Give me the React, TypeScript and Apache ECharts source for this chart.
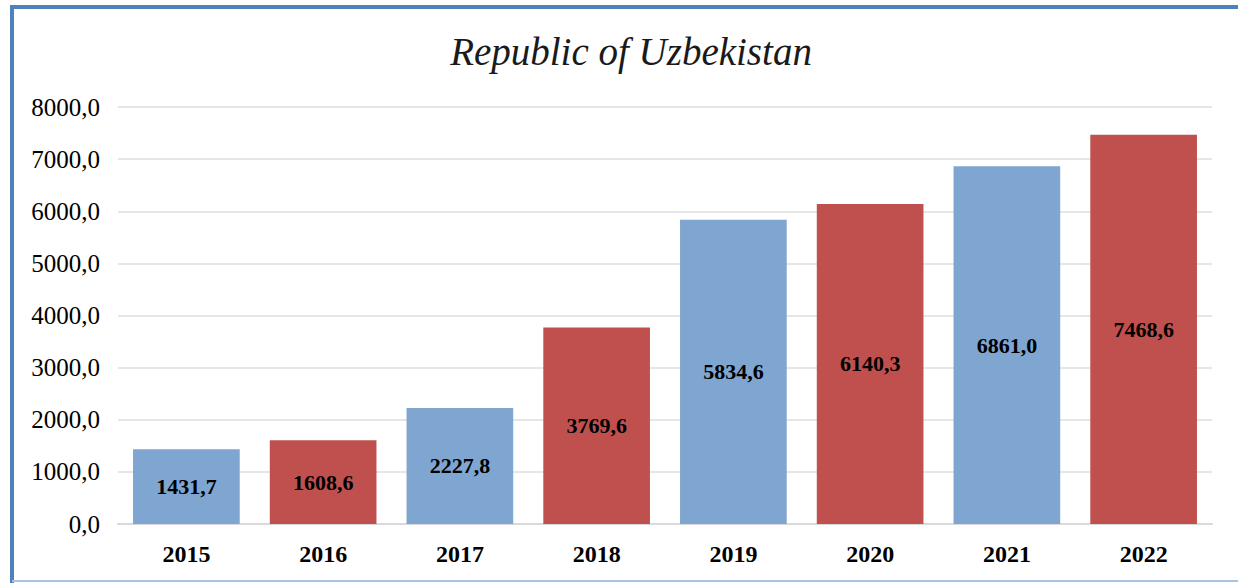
import React, { useEffect, useRef } from "react";
import * as echarts from "echarts";

const years = ["2015", "2016", "2017", "2018", "2019", "2020", "2021", "2022"];
const values = [1431.7, 1608.6, 2227.8, 3769.6, 5834.6, 6140.3, 6861.0, 7468.6];
const barColors = ["#7FA5D1", "#C0504D", "#7FA5D1", "#C0504D", "#7FA5D1", "#C0504D", "#7FA5D1", "#C0504D"];
const titleText = "Republic of Uzbekistan";

const fmt = (v: number) => v.toFixed(1).replace(".", ",");

export default function App() {
  const ref = useRef<HTMLDivElement>(null);
  useEffect(() => {
    if (!ref.current) return;
    const chart = echarts.init(ref.current, undefined, { renderer: "svg" });
    const serif = "'Liberation Serif', 'Times New Roman', serif";
    chart.setOption({
      animation: false,
      backgroundColor: "#ffffff",
      title: {
        text: titleText,
        left: 626,
        textAlign: "center",
        top: 27,
        textStyle: { fontFamily: serif, fontStyle: "italic", fontWeight: "normal", fontSize: 39, color: "#1a1a1a" },
      },
      graphic: [
        { type: "line", shape: { x1: 10, y1: 7, x2: 1238, y2: 7 }, style: { stroke: "#4F81BD", lineWidth: 4 } },
        { type: "line", shape: { x1: 12, y1: 5, x2: 12, y2: 583 }, style: { stroke: "#4F81BD", lineWidth: 4 } },
        { type: "line", shape: { x1: 12, y1: 581, x2: 1238, y2: 581 }, style: { stroke: "#A9C3E3", lineWidth: 2 } },
      ],
      grid: { left: 118, right: 26, top: 107, bottom: 59, containLabel: false },
      xAxis: {
        type: "category",
        data: years,
        axisTick: { show: false },
        axisLine: { lineStyle: { color: "#d9d9d9", width: 2 } },
        axisLabel: { fontFamily: serif, fontWeight: "bold", fontSize: 24, color: "#000", margin: 18 },
      },
      yAxis: {
        type: "value",
        min: 0,
        max: 8000,
        interval: 1000,
        axisLine: { show: false },
        axisTick: { show: false },
        splitLine: { lineStyle: { color: "#e6e6e6", width: 2 } },
        axisLabel: { fontFamily: serif, fontSize: 25, color: "#000", margin: 18, formatter: (v: number) => fmt(v) },
      },
      series: [
        {
          type: "bar",
          data: values.map((v, i) => ({ value: v, itemStyle: { color: barColors[i] } })),
          barCategoryGap: "22%",
          label: {
            show: true,
            position: "inside",
            fontFamily: serif,
            fontWeight: "bold",
            fontSize: 22,
            color: "#000",
            formatter: (p: any) => fmt(p.value),
          },
        },
      ],
    });
    return () => chart.dispose();
  }, []);
  return <div ref={ref} style={{ position: "fixed", left: 0, top: 0, width: 1238, height: 583 }} />;
}
